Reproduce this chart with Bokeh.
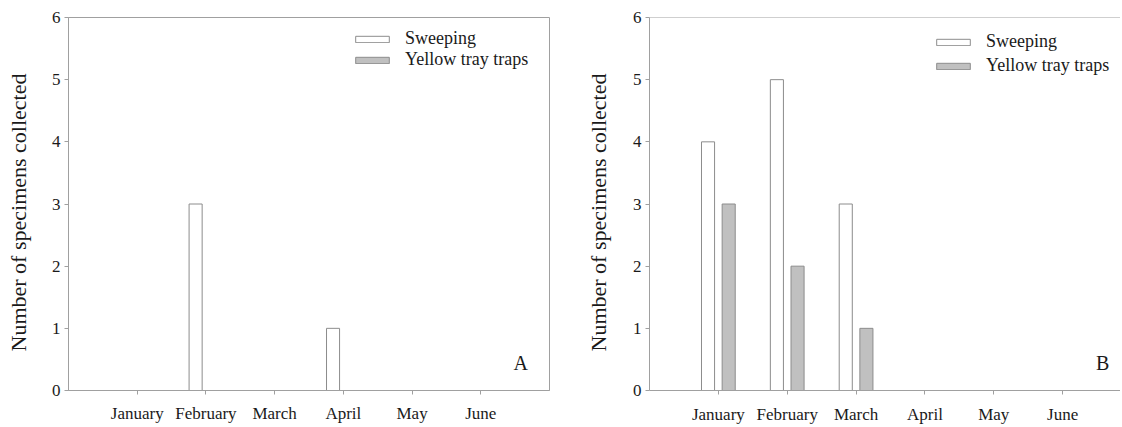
import math
from bokeh.plotting import figure
from bokeh.layouts import row
from bokeh.models import ColumnDataSource, FixedTicker, Legend, LegendItem, Label, Span, Range1d
from bokeh.embed import file_html
from bokeh.resources import INLINE

months = ["January", "February", "March", "April", "May", "June"]
sweeping_A = [0, 3, 0, 1, 0, 0]
tray_A = [0, 0, 0, 0, 0, 0]
sweeping_B = [4, 5, 3, 0, 0, 0]
tray_B = [3, 2, 1, 0, 0, 0]
y_ticks = [0, 1, 2, 3, 4, 5, 6]
series_names = ["Sweeping", "Yellow tray traps"]
y_title = "Number of specimens collected"

FONT = "'Liberation Serif', 'Times New Roman', serif"
AXIS_COLOR = "#a0a0a0"
BAR_LINE = "#8c8c8c"
TRAY_FILL = "#c0c0c0"
TEXT = "#1a1a1a"
H = 426


def title_strip(width, cx, cy):
    t = figure(width=width, height=H, output_backend="svg", toolbar_location=None,
               x_range=Range1d(0, 1), y_range=Range1d(0, 1),
               x_axis_location=None, y_axis_location=None, min_border=0)
    t.outline_line_color = None
    t.grid.visible = False
    t.background_fill_color = "white"
    t.border_fill_color = "white"
    t.add_layout(Label(x=cx, y=cy, x_units="screen", y_units="screen",
                       text=y_title, angle=math.pi / 2, text_font=FONT,
                       text_font_size="22px", text_color=TEXT,
                       text_align="center", text_baseline="middle"))
    return t


def make_panel(sweep, tray, letter, x_end, width, borders, label_standoff,
               leg_loc, leg_spacing, outline):
    mb_left, mb_top, mb_bottom, mb_right = borders
    pos = list(range(1, len(months) + 1))
    src = ColumnDataSource(dict(
        xs=[p - 0.15 for p in pos], xt=[p + 0.15 for p in pos],
        sweep=sweep, tray=tray))
    p = figure(width=width, height=H, output_backend="svg", toolbar_location=None,
               x_range=Range1d(0, x_end), y_range=Range1d(0, 6),
               min_border_left=mb_left, min_border_top=mb_top,
               min_border_bottom=mb_bottom, min_border_right=mb_right)
    p.grid.visible = False
    p.background_fill_color = "white"
    p.border_fill_color = "white"
    if outline:
        p.outline_line_color = AXIS_COLOR
        p.outline_line_width = 1
    else:
        p.outline_line_color = None
        p.add_layout(Span(location=6, dimension="width", line_color=AXIS_COLOR, line_width=1))

    r1 = p.vbar(x="xs", top="sweep", bottom=0, width=0.19, source=src,
                fill_color="white", line_color=BAR_LINE, line_width=1)
    r2 = p.vbar(x="xt", top="tray", bottom=0, width=0.19, source=src,
                fill_color=TRAY_FILL, line_color=BAR_LINE, line_width=1)

    xa = p.xaxis[0]
    xa.ticker = FixedTicker(ticks=pos)
    xa.major_label_overrides = {i: m for i, m in zip(pos, months)}
    xa.minor_tick_line_color = None
    xa.major_tick_in = 0
    xa.major_tick_out = 4
    xa.axis_line_color = AXIS_COLOR
    xa.major_tick_line_color = AXIS_COLOR
    xa.major_label_text_font = FONT
    xa.major_label_text_font_size = "17px"
    xa.major_label_text_color = TEXT
    xa.major_label_standoff = label_standoff

    ya = p.yaxis[0]
    ya.ticker = FixedTicker(ticks=y_ticks)
    ya.minor_tick_line_color = None
    ya.major_tick_in = 0
    ya.major_tick_out = 4
    ya.axis_line_color = AXIS_COLOR
    ya.major_tick_line_color = AXIS_COLOR
    ya.major_label_text_font = FONT
    ya.major_label_text_font_size = "17px"
    ya.major_label_text_color = TEXT
    ya.major_label_standoff = 4

    legend = Legend(items=[LegendItem(label=series_names[0], renderers=[r1]),
                           LegendItem(label=series_names[1], renderers=[r2])],
                    location=leg_loc, orientation="vertical",
                    glyph_width=42, glyph_height=8, label_standoff=12,
                    label_text_font=FONT, label_text_font_size="18px",
                    label_text_color=TEXT, label_height=18,
                    spacing=leg_spacing, padding=0, margin=0,
                    border_line_color=None, background_fill_alpha=0)
    p.add_layout(legend)

    p.add_layout(Label(x=6.58, y=0.45, text=letter, text_font=FONT, text_font_size="20px",
                       text_color=TEXT, text_align="center", text_baseline="middle"))
    return p


tA = title_strip(36, 18, 178)
pA = make_panel(sweeping_A, tray_A, "A", 7, 544, (32, 17, 34, 31), 9,
                (283, 320), 0, True)
tB = title_strip(36, 18, 178)
pB = make_panel(sweeping_B, tray_B, "B", 6.84, 504, (33, 15, 36, 0), 10,
                (283, 314), 3, False)

layout = row(tA, pA, tB, pB)
open("out.html", "w").write(file_html(layout, INLINE))
